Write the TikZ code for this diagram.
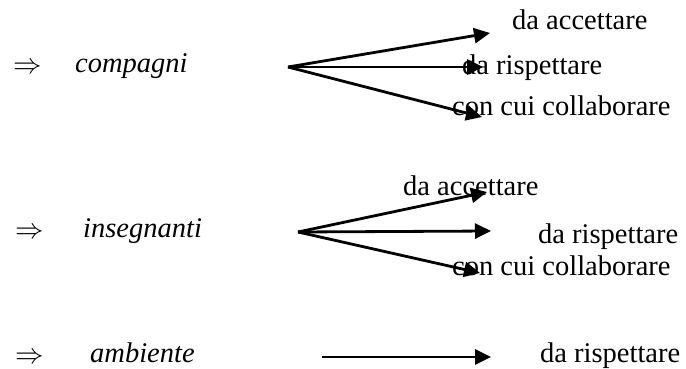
\RequirePackage{fix-cm}
\documentclass[tikz,border=0pt]{standalone}
\usepackage{fontspec}
\setmainfont{Liberation Serif}
\usetikzlibrary{arrows.meta}
\begin{document}
\begin{tikzpicture}[x=1pt,y=-1pt,
  lbl/.style={anchor=base west,inner sep=0pt,font=\fontsize{28.5}{32}\selectfont},
  key/.style={anchor=base west,inner sep=0pt,font=\fontsize{28.5}{32}\selectfont\itshape},
  impl/.style={anchor=base west,inner sep=0pt,font=\fontsize{28.5}{32}\selectfont},
  arr/.style={line width=2.8pt,-{Triangle[length=16pt,width=15pt]}}]
\useasboundingbox (0,0) rectangle (686,369);
% row 1
\node[impl] (i1) at (13,74) {$\Rightarrow$};
\node[key] (k1) at (75,73) {compagni};
\coordinate (o1) at (288,67);
\coordinate (t1a) at (490,33);
\coordinate (t1b) at (483,67);
\coordinate (t1c) at (482,117);
\draw[arr] (o1) -- (t1a);
\draw[arr] (o1) -- (t1b);
\draw[arr] (o1) -- (t1c);
\node[lbl] (a1) at (512,30) {da accettare};
\node[lbl] (r1) at (462,75) {da rispettare};
\node[lbl] (c1) at (452,115) {con cui collaborare};
% row 2
\node[impl] (i2) at (15,238) {$\Rightarrow$};
\node[key] (k2) at (83,237) {insegnanti};
\coordinate (o2) at (298,232);
\coordinate (t2a) at (487,192);
\coordinate (t2b) at (491,231);
\coordinate (t2c) at (480,273);
\draw[arr] (o2) -- (t2a);
\draw[arr] (o2) -- (t2b);
\draw[arr] (o2) -- (t2c);
\node[lbl] (a2) at (403,195) {da accettare};
\node[lbl] (r2) at (538,243) {da rispettare};
\node[lbl] (c2) at (452,275) {con cui collaborare};
% row 3
\node[impl] (i3) at (15,363) {$\Rightarrow$};
\node[key] (k3) at (90,362) {ambiente};
\coordinate (o3) at (322,357);
\coordinate (t3) at (491,357);
\draw[arr] (o3) -- (t3);
\node[lbl] (r3) at (540,362) {da rispettare};
\end{tikzpicture}
\end{document}
